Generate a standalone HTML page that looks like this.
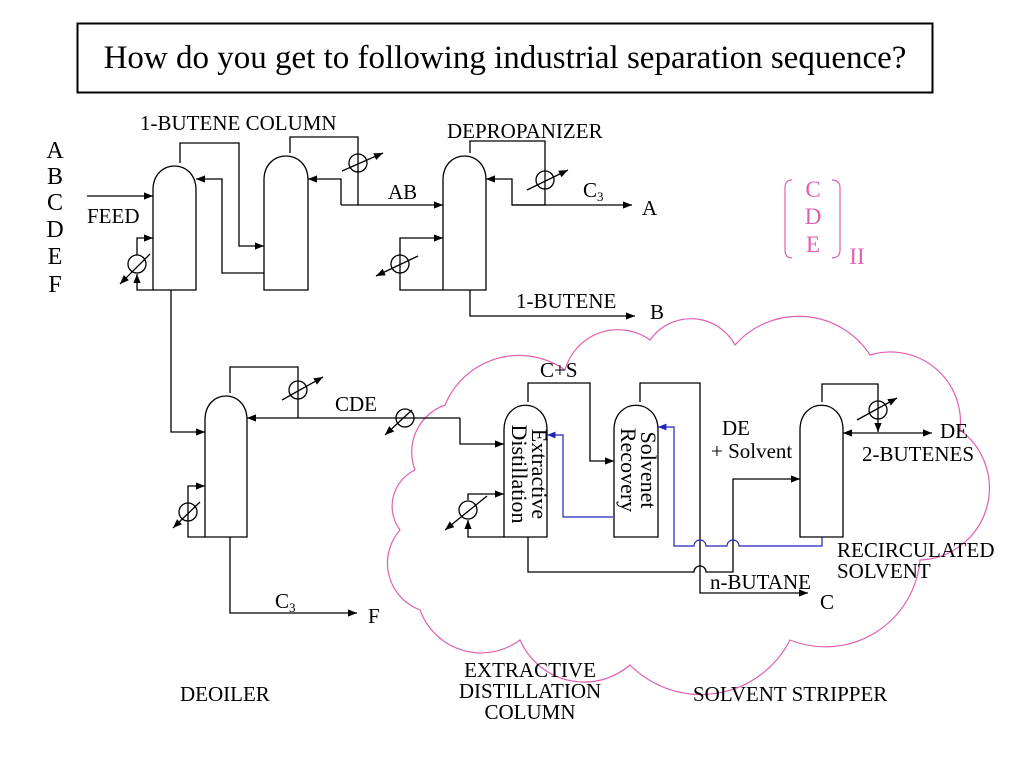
<!DOCTYPE html>
<html><head><meta charset="utf-8"><style>
html,body{margin:0;padding:0;background:#fff;}
svg{display:block;}
text{font-family:"Liberation Serif",serif;fill:#000;}
</style></head><body>
<svg width="1024" height="768" viewBox="0 0 1024 768" xmlns="http://www.w3.org/2000/svg">
<defs>
<marker id="a" viewBox="0 0 10 10" refX="10" refY="5" markerWidth="7" markerHeight="7" orient="auto-start-reverse"><path d="M0,1 L10,5 L0,9 z" fill="#000"/></marker>
<marker id="b" viewBox="0 0 10 10" refX="10" refY="5" markerWidth="7" markerHeight="7" orient="auto-start-reverse"><path d="M0,1 L10,5 L0,9 z" fill="#2222bb"/></marker>
</defs>
<rect x="77.5" y="23.5" width="855" height="69" fill="none" stroke="#000" stroke-width="2"/>
<text x="505" y="68" font-size="33" text-anchor="middle">How do you get to following industrial separation sequence?</text>

<path fill="none" stroke="#e060b0" stroke-width="1.2" d="M415,470 A50,50 0 0 1 445,405 A80,80 0 0 1 565,370 A55,55 0 0 1 650,340 A50,50 0 0 1 735,345 A85,85 0 0 1 870,355 A70,70 0 0 1 960,430 A72,72 0 0 1 920,560 A95,95 0 0 1 790,640 A100,100 0 0 1 630,665 A70,70 0 0 1 520,640 A65,65 0 0 1 420,610 A50,50 0 0 1 400,530 A40,40 0 0 1 415,470"/>

<g font-size="24" text-anchor="middle">
<text x="55" y="158">A</text><text x="55" y="184">B</text><text x="55" y="210">C</text><text x="55" y="237">D</text><text x="55" y="264">E</text><text x="55" y="292">F</text>
</g>

<g fill="none" stroke="#000" stroke-width="1.3">
<path d="M153,290 V190 C153,158 196,158 196,190 V290 Z"/>
<path d="M264,290 V180 C264,148 308,148 308,180 V290 Z"/>
<path d="M443,290 V180 C443,148 486,148 486,180 V290 Z"/>
<path d="M205,537 V420 C205,388 247,388 247,420 V537 Z"/>
<path d="M504,537 V430 C504,397 547,397 547,430 V537 Z"/>
<path d="M614,537 V430 C614,397 658,397 658,430 V537 Z"/>
<path d="M800,537 V430 C800,397 843,397 843,430 V537 Z"/>

<path d="M87,196 H153" marker-end="url(#a)"/>
<path d="M180,163 V143 H239 V246 H264" marker-end="url(#a)"/>
<path d="M264,273 H222 V179 H196" marker-end="url(#a)"/>
<path d="M153,290 H137 V274" marker-end="url(#a)"/>
<path d="M137,255 V238 H153" marker-end="url(#a)"/>
<circle cx="137" cy="264" r="9"/>
<path d="M150,254 L120,284" marker-end="url(#a)"/>
<path d="M171,290 V432 H205" marker-end="url(#a)"/>

<path d="M290,153 V137 H358 V205"/>
<circle cx="358" cy="163" r="9"/>
<path d="M342,171 L383,153" marker-end="url(#a)"/>
<path d="M341,205 H443" marker-end="url(#a)"/>
<path d="M341,205 V179 H308" marker-end="url(#a)"/>

<path d="M470,153 V141 H545 V205"/>
<circle cx="545" cy="180" r="9"/>
<path d="M527,190 L568,170" marker-end="url(#a)"/>
<path d="M545,205 H512 V179 H486" marker-end="url(#a)"/>
<path d="M512,205 H632" marker-end="url(#a)"/>
<path d="M443,290 H400 V238 H443" marker-end="url(#a)"/>
<circle cx="400" cy="264" r="9"/>
<path d="M418,256 L376,276" marker-end="url(#a)"/>
<path d="M470,290 V316 H635" marker-end="url(#a)"/>

<path d="M230,393 V367 H298 V418"/>
<circle cx="298" cy="390" r="9"/>
<path d="M282,400 L323,377" marker-end="url(#a)"/>
<path d="M460,418 H247" marker-end="url(#a)"/>
<path d="M460,418 V444 H504" marker-end="url(#a)"/>
<circle cx="405" cy="418" r="9"/>
<path d="M412,410 L385,435" marker-end="url(#a)"/>
<path d="M205,537 H188 V486 H205" marker-end="url(#a)"/>
<circle cx="188" cy="512" r="9"/>
<path d="M200,502 L173,528" marker-end="url(#a)"/>
<path d="M230,537 V613 H357" marker-end="url(#a)"/>

<path d="M528,402 V383 H590 V461 H614" marker-end="url(#a)"/>
<path d="M504,537 H468 V520" marker-end="url(#a)"/>
<path d="M468,500 V494 H504" marker-end="url(#a)"/>
<circle cx="468" cy="510" r="9"/>
<path d="M487,496 L445,530" marker-end="url(#a)"/>
<path d="M528,537 V572 H694 A6,6 0 0 1 706,572 H733 V479 H800" marker-end="url(#a)"/>

<path d="M640,402 V383 H700 V593 H808" marker-end="url(#a)"/>

<path d="M822,402 V384 H878 V432" marker-end="url(#a)"/>
<circle cx="878" cy="410" r="9"/>
<path d="M857,420 L897,398" marker-end="url(#a)"/>
<path d="M843,433 H932" marker-start="url(#a)" marker-end="url(#a)"/>
</g>

<g fill="none" stroke="#2222bb" stroke-width="1.2">
<path d="M613,517 H563 V435 H547" marker-end="url(#b)"/>
<path d="M822,537 V546 H739 A6,6 0 0 0 727,546 H706 A6,6 0 0 0 694,546 H674 V427 H658" marker-end="url(#b)"/>
</g>

<g fill="none" stroke="#e060b0" stroke-width="1.2">
<path d="M792,180 Q785,180 785,188 V250 Q785,258 792,258"/>
<path d="M832,180 Q840,180 840,188 V250 Q840,258 832,258"/>
</g>
<g font-size="23" text-anchor="middle">
<text x="813" y="197" style="fill:#e060b0">C</text>
<text x="813" y="224" style="fill:#e060b0">D</text>
<text x="813" y="252" style="fill:#e060b0">E</text>
<text x="857" y="264" style="fill:#e060b0">II</text>
</g>

<g font-size="21">
<text x="140" y="130">1-BUTENE  COLUMN</text>
<text x="447" y="138">DEPROPANIZER</text>
<text x="87" y="223">FEED</text>
<text x="388" y="199">AB</text>
<text x="583" y="197">C<tspan font-size="13" dy="4">3</tspan></text>
<text x="642" y="215" font-size="21">A</text>
<text x="516" y="308">1-BUTENE</text>
<text x="650" y="319" font-size="21">B</text>
<text x="335" y="411">CDE</text>
<text x="540" y="377">C+S</text>
<text x="275" y="608">C<tspan font-size="13" dy="4">3</tspan></text>
<text x="368" y="623" font-size="21">F</text>
<text x="722" y="435">DE</text>
<text x="711" y="458">+ Solvent</text>
<text x="940" y="438">DE</text>
<text x="862" y="461">2-BUTENES</text>
<text x="837" y="557">RECIRCULATED</text>
<text x="837" y="578">SOLVENT</text>
<text x="710" y="589">n-BUTANE</text>
<text x="820" y="609" font-size="21">C</text>
<text x="180" y="701">DEOILER</text>
<text x="530" y="677" text-anchor="middle">EXTRACTIVE</text>
<text x="530" y="698" text-anchor="middle">DISTILLATION</text>
<text x="530" y="719" text-anchor="middle">COLUMN</text>
<text x="693" y="701">SOLVENT  STRIPPER</text>
</g>
<g font-size="22" text-anchor="middle">
<text transform="translate(527,474) rotate(90)" y="-5">Extractive</text>
<text transform="translate(527,474) rotate(90)" y="15">Distillation</text>
<text transform="translate(636,470) rotate(90)" y="-5">Solvenet</text>
<text transform="translate(636,470) rotate(90)" y="15">Recovery</text>
</g>
</svg>
</body></html>
